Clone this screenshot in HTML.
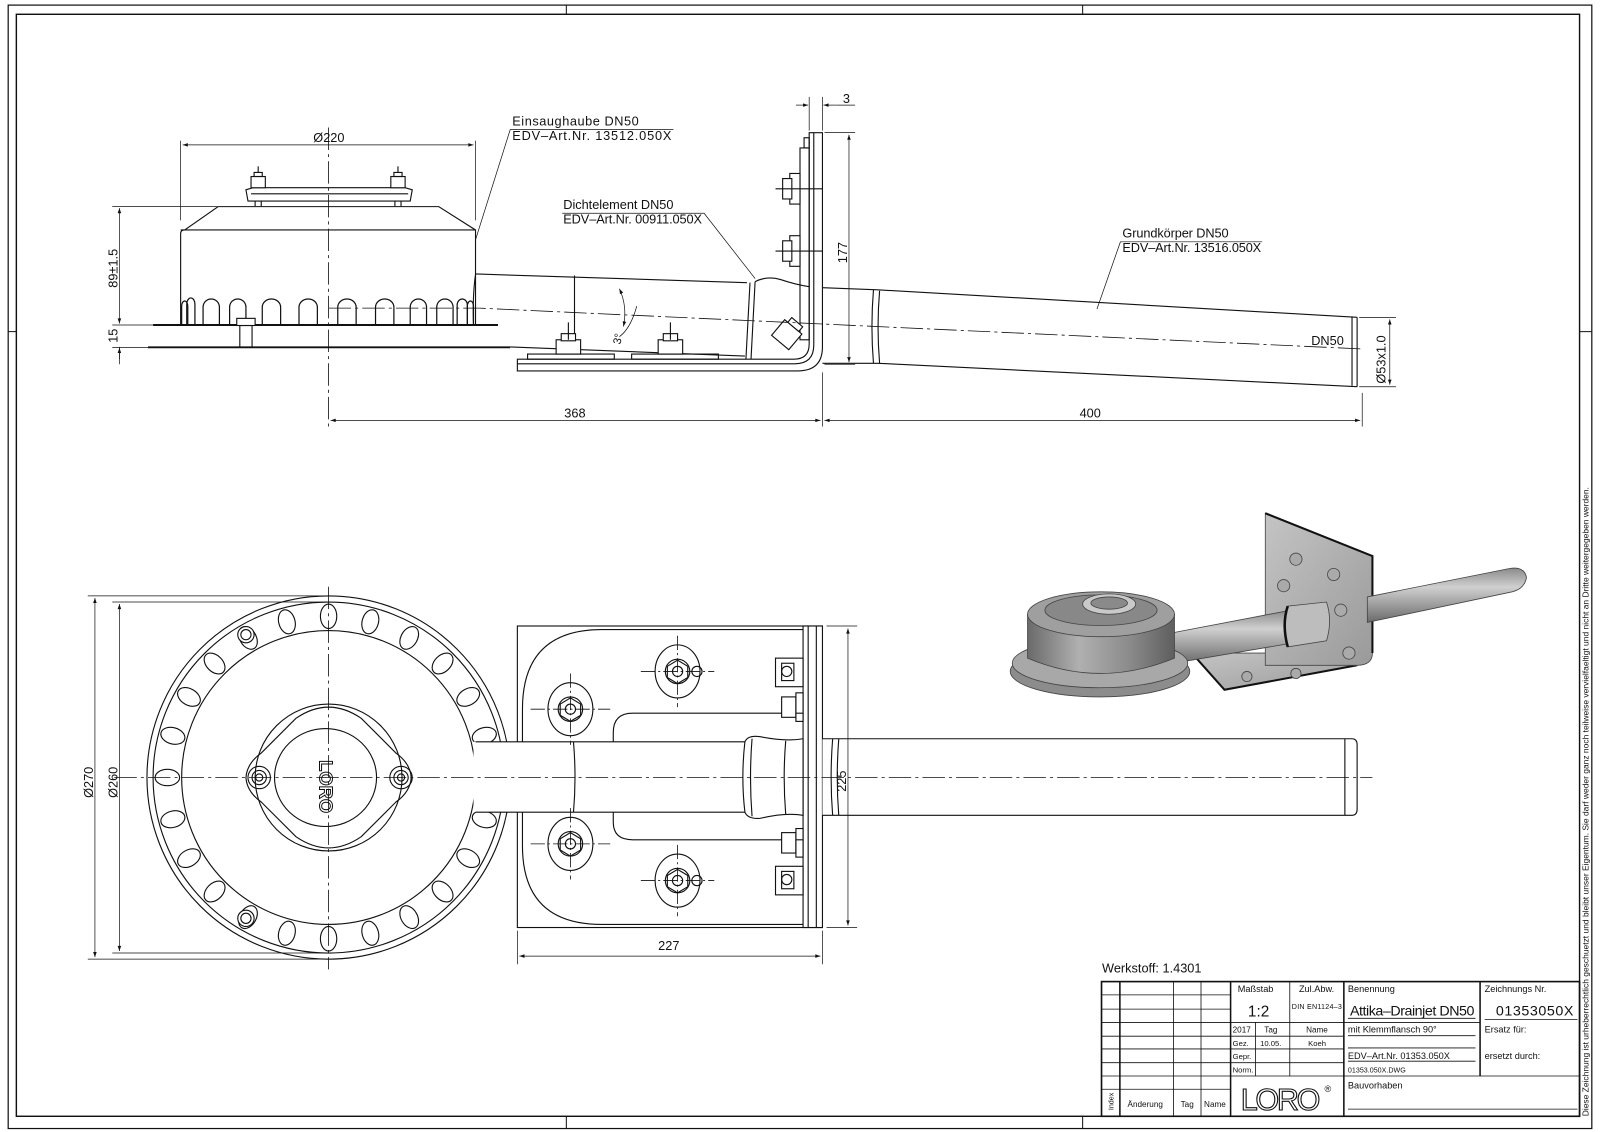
<!DOCTYPE html>
<html><head><meta charset="utf-8"><style>
html,body{margin:0;padding:0;background:#fff;}
svg{display:block;}
text{font-family:"Liberation Sans",sans-serif;fill:#111;}
</style></head><body>
<svg width="1600" height="1132" viewBox="0 0 1568 1109.4" xmlns="http://www.w3.org/2000/svg">
<defs>
<marker id="a" viewBox="0 0 10 10" refX="10" refY="5" markerWidth="9" markerHeight="5" orient="auto-start-reverse" markerUnits="userSpaceOnUse"><path d="M0,1.5 L10,5 L0,8.5z" fill="#111"/></marker>
<linearGradient id="gh" x1="0" x2="1" y1="0" y2="0"><stop offset="0" stop-color="#6a6a6a"/><stop offset=".35" stop-color="#b0b0b0"/><stop offset=".7" stop-color="#8a8a8a"/><stop offset="1" stop-color="#5e5e5e"/></linearGradient>
<linearGradient id="gp" x1="0" x2="0" y1="0" y2="1"><stop offset="0" stop-color="#8a8a8a"/><stop offset=".35" stop-color="#d0d0d0"/><stop offset="1" stop-color="#6a6a6a"/></linearGradient>
<linearGradient id="gb" x1="0" x2="1" y1="0" y2="1"><stop offset="0" stop-color="#c4c4c4"/><stop offset="1" stop-color="#9a9a9a"/></linearGradient>
</defs>
<g fill="none" stroke="#111" stroke-width="1">
<rect x="8" y="5" width="1552" height="1101" stroke-width="1.2"/>
<rect x="16" y="14" width="1532" height="1080" stroke-width="1.4"/>
<path d="M555,5V14M1061,5V14M555,1094V1106M1061,1094V1106M8,325H16M1548,325H1560"/>
</g>
<text x="0" y="0" font-size="8.3" transform="translate(1557,1094) rotate(-90)">Diese Zeichnung ist urheberrechtlich geschuetzt und bleibt unser Eigentum. Sie darf weder ganz noch teilweise vervielfaeltigt und nicht an Dritte weitergegeben werden.</text>

<!-- ================= SIDE VIEW ================= -->
<g fill="none" stroke="#111" stroke-width="1.1">
<path d="M177,318 V229 Q177,225.4 181,225.4 L213.7,202.5 H430 L466,225.4 V318" fill="#fff"/>
<path d="M177,225.4 H466"/>
<g stroke-width="1.2">
<path d="M178,318V300a3,5 0 0 1 6,0V318"/>
<path d="M183,318V298a4,6 0 0 1 8,0V318"/>
<path d="M199,318V301a8,8 0 0 1 16,0V318"/>
<path d="M225,318V301a8,8 0 0 1 16,0V318"/>
<path d="M257,318V301a9,8 0 0 1 18,0V318"/>
<path d="M293,318V301a9,8 0 0 1 18,0V318"/>
<path d="M331,318V301a9,8 0 0 1 18,0V318"/>
<path d="M368,318V301a9,8 0 0 1 18,0V318"/>
<path d="M402,318V301a8,8 0 0 1 16,0V318"/>
<path d="M428,318V301a8,8 0 0 1 16,0V318"/>
<path d="M448,318V299a5,6 0 0 1 10,0V318"/>
<path d="M458,318V300a3,5 0 0 1 6,0V318"/>
</g>
<path d="M150,318.5 H488" stroke-width="2"/>
<path d="M145,340.4 H500" stroke-width="1.8"/>
<rect x="235" y="319" width="12" height="21" fill="#fff"/>
<rect x="232" y="312" width="18" height="7" fill="#fff"/>
<path d="M243,197 L241,186 L248,184 H397 L404,186 L402,197 Z" fill="#fff"/>
<path d="M246,190H400"/>
<rect x="246" y="173" width="14" height="11" fill="#fff"/><rect x="249" y="169" width="8" height="4"/><path d="M253,163V169"/>
<rect x="383" y="173" width="14" height="11" fill="#fff"/><rect x="386" y="169" width="8" height="4"/><path d="M390,163V169"/>
<path d="M250,197V202M256,197V202M387,197V202M393,197V202"/>
<path d="M466,268.5 L732,277" fill="none"/>
<path d="M466,269 Q463,290 464,318"/>
<path d="M500,340 L730,349"/>
<path d="M563,270 V345"/>
<path d="M735,277 L731,352 M740,276 L736,352"/>
<path d="M740,276 Q752,270 765,274 Q780,279 793,281"/>
<path d="M806,282 L860,284 L1330,311"/>
<path d="M806,356 L860,356 L1330,379"/>
<path d="M856,284 Q853,320 856,356 M862,285 Q859,320 862,356"/>
<path d="M1325,310 V378 M1330,311 V379" />
<path d="M507,352 H778 Q793,352 793,337 V130 H806 V340 Q806,363.5 782,363.5 H507 Z" fill="#fff"/>
<path d="M507,356.5 H779 Q797.5,356.5 797.5,338 V130"/>
<rect x="517" y="347" width="85" height="5"/><rect x="619" y="347" width="85" height="5"/>
<rect x="784" y="145" width="9" height="188"/>
<rect x="788" y="135" width="5" height="10"/>
<g fill="#fff">
<rect x="774" y="170" width="10" height="30"/><rect x="767" y="175" width="9" height="20"/>
<rect x="774" y="231" width="10" height="30"/><rect x="767" y="236" width="9" height="20"/>
<rect x="545" y="333" width="24" height="14"/><rect x="550" y="327" width="14" height="7"/>
<rect x="645" y="333" width="24" height="14"/><rect x="650" y="327" width="14" height="7"/>
<g transform="rotate(40 771 328)"><rect x="760" y="318" width="22" height="20"/><rect x="764" y="312" width="14" height="6"/></g>
</g>
<path d="M760,185H806M760,246H806M557,316V333M657,316V333"/>
</g>
<g fill="none" stroke="#111" stroke-width="0.8" stroke-dasharray="22,4,3,4">
<path d="M322,125 V418"/>
<path d="M322,302 H470 L1335,342"/>
</g>
<g fill="none" stroke="#111" stroke-width="0.7">
<path d="M177,216 V138 M466,216 V138"/>
<path d="M179,142 H464" marker-start="url(#a)" marker-end="url(#a)"/>
<path d="M110,202.5 H213 M110,318.5 H150 M110,340.4 H145"/>
<path d="M117,204 V317" marker-start="url(#a)" marker-end="url(#a)"/>
<path d="M117,340 V357" />
<path d="M117,352 V341" marker-end="url(#a)"/>
<path d="M806,365 V418 M1335,385 V418"/>
<path d="M324,412 H804" marker-start="url(#a)" marker-end="url(#a)"/>
<path d="M808,412 H1333" marker-start="url(#a)" marker-end="url(#a)"/>
<path d="M793,95 V128 M806,95 V128"/>
<path d="M780,103 H792" marker-end="url(#a)"/><path d="M820,103 H807" marker-end="url(#a)"/><path d="M820,103 H838"/>
<path d="M808,130 H838 M808,357 H838"/>
<path d="M832,132 V355" marker-start="url(#a)" marker-end="url(#a)"/>
<path d="M1332,311 H1368 M1332,379 H1368"/>
<path d="M1362,313 V377" marker-start="url(#a)" marker-end="url(#a)"/>
<path d="M607,283 Q615,300 611,320" marker-start="url(#a)" marker-end="url(#a)"/>
<path d="M607,330 Q618,322 624,300" />
<path d="M466,235 L500,127 H660"/>
<path d="M740,273 L690,209 H551"/>
<path d="M1075,303 L1098,237 H1237"/>
</g>
<g font-size="12.5">
<text x="307" y="139">Ø220</text>
<text x="553" y="409">368</text>
<text x="1058" y="409">400</text>
<text x="826" y="101">3</text>
<text x="1285" y="338">DN50</text>
<text x="502" y="123" textLength="124">Einsaughaube DN50</text>
<text x="502" y="137" textLength="156">EDV–Art.Nr. 13512.050X</text>
<text x="552" y="205" textLength="108">Dichtelement DN50</text>
<text x="552" y="219" textLength="136">EDV–Art.Nr. 00911.050X</text>
<text x="1100" y="233" textLength="104">Grundkörper DN50</text>
<text x="1100" y="247" textLength="136">EDV–Art.Nr. 13516.050X</text>
<text transform="translate(115,282) rotate(-90)">89±1.5</text>
<text transform="translate(115,336) rotate(-90)">15</text>
<text transform="translate(830,258) rotate(-90)">177</text>
<text transform="translate(1358,376) rotate(-90)">Ø53x1.0</text>
<text transform="translate(608,338) rotate(-78)" font-size="11">3°</text>
</g>

<!-- ================= PLAN VIEW ================= -->
<g fill="none" stroke="#111" stroke-width="1.1">
<circle cx="322" cy="762" r="178"/>
<circle cx="322" cy="762" r="172"/>
<circle cx="322" cy="762" r="144"/>
<g>
<ellipse cx="480" cy="762" rx="12" ry="8" transform="rotate(15 322 762)"/>
<ellipse cx="480" cy="762" rx="12" ry="8" transform="rotate(30 322 762)"/>
<ellipse cx="480" cy="762" rx="12" ry="8" transform="rotate(45 322 762)"/>
<ellipse cx="480" cy="762" rx="12" ry="8" transform="rotate(60 322 762)"/>
<ellipse cx="480" cy="762" rx="12" ry="8" transform="rotate(75 322 762)"/>
<ellipse cx="480" cy="762" rx="12" ry="8" transform="rotate(90 322 762)"/>
<ellipse cx="480" cy="762" rx="12" ry="8" transform="rotate(105 322 762)"/>
<ellipse cx="480" cy="762" rx="12" ry="8" transform="rotate(120 322 762)"/>
<ellipse cx="480" cy="762" rx="12" ry="8" transform="rotate(135 322 762)"/>
<ellipse cx="480" cy="762" rx="12" ry="8" transform="rotate(150 322 762)"/>
<ellipse cx="480" cy="762" rx="12" ry="8" transform="rotate(165 322 762)"/>
<ellipse cx="480" cy="762" rx="12" ry="8" transform="rotate(180 322 762)"/>
<ellipse cx="480" cy="762" rx="12" ry="8" transform="rotate(195 322 762)"/>
<ellipse cx="480" cy="762" rx="12" ry="8" transform="rotate(210 322 762)"/>
<ellipse cx="480" cy="762" rx="12" ry="8" transform="rotate(225 322 762)"/>
<ellipse cx="480" cy="762" rx="12" ry="8" transform="rotate(240 322 762)"/>
<ellipse cx="480" cy="762" rx="12" ry="8" transform="rotate(255 322 762)"/>
<ellipse cx="480" cy="762" rx="12" ry="8" transform="rotate(270 322 762)"/>
<ellipse cx="480" cy="762" rx="12" ry="8" transform="rotate(285 322 762)"/>
<ellipse cx="480" cy="762" rx="12" ry="8" transform="rotate(300 322 762)"/>
<ellipse cx="480" cy="762" rx="12" ry="8" transform="rotate(315 322 762)"/>
<ellipse cx="480" cy="762" rx="12" ry="8" transform="rotate(330 322 762)"/>
<ellipse cx="480" cy="762" rx="12" ry="8" transform="rotate(345 322 762)"/>
</g>
<circle cx="241" cy="622" r="8" fill="#fff"/><circle cx="241" cy="622" r="5"/>
<circle cx="241" cy="900" r="8" fill="#fff"/><circle cx="241" cy="900" r="5"/>
<circle cx="322" cy="762" r="72"/>
<path d="M241,762 Q242,748 256,738 L290,704 Q322,682 354,704 L388,738 Q402,748 403,762 Q402,776 388,786 L354,820 Q322,842 290,820 L256,786 Q242,776 241,762Z"/>
<ellipse cx="319" cy="762" rx="50" ry="48"/>
<circle cx="254" cy="762" r="11"/><circle cx="254" cy="762" r="7"/><circle cx="254" cy="762" r="3.5"/>
<circle cx="393" cy="762" r="11"/><circle cx="393" cy="762" r="7"/><circle cx="393" cy="762" r="3.5"/>
<rect x="507" y="613.5" width="299" height="295.5" fill="#fff"/>
<path d="M790,617 H590 Q512,617 512,695 V829 Q512,906 590,906 H790"/>
<path d="M790,699 H620 Q601,699 601,718 V806 Q601,823 620,823 H790"/>
<rect x="787" y="613.5" width="19" height="295.5" fill="#fff"/>
<path d="M792,613.5V909 M800,613.5V909"/>
<rect x="464" y="727" width="266" height="69" fill="#fff" stroke="none"/>
<path d="M466,727 H730 M466,796 H730"/>
<path d="M562,727 Q565,762 562,796"/>
<path d="M730,727 Q733,720 745,722 Q770,727 787,724 V799 Q770,796 745,802 Q733,803 730,796 Q726,762 730,727Z" fill="#fff"/>
<path d="M737,724 Q734,762 737,800 M770,726 Q767,762 770,798"/>
<rect x="806" y="724" width="524" height="75" fill="#fff" stroke="none"/>
<path d="M806,724 H1325 M806,799 H1325"/>
<path d="M816,724 Q813,762 816,799 M822,724 Q819,762 822,799"/>
<path d="M1318,724 V799 M1325,724 Q1330,724 1330,730 V793 Q1330,799 1325,799"/>
<ellipse cx="559" cy="695" rx="22" ry="26" fill="#fff"/><circle cx="559" cy="695" r="12"/><path d="M549,690 L559,684 L569,690 V701 L559,707 L549,701Z"/><circle cx="559" cy="695" r="5"/>
<ellipse cx="559" cy="827" rx="22" ry="26" fill="#fff"/><circle cx="559" cy="827" r="12"/><path d="M549,822 L559,816 L569,822 V833 L559,839 L549,833Z"/><circle cx="559" cy="827" r="5"/>
<ellipse cx="664" cy="658" rx="22" ry="26" fill="#fff"/><circle cx="664" cy="658" r="12"/><path d="M654,653 L664,647 L674,653 V664 L664,670 L654,664Z"/><circle cx="664" cy="658" r="5"/><circle cx="683" cy="658" r="5"/>
<ellipse cx="664" cy="863" rx="22" ry="26" fill="#fff"/><circle cx="664" cy="863" r="12"/><path d="M654,858 L664,852 L674,858 V869 L664,875 L654,869Z"/><circle cx="664" cy="863" r="5"/><circle cx="683" cy="863" r="5"/>
<rect x="760" y="645" width="27" height="28" fill="#fff"/><rect x="766" y="650" width="12" height="17"/><circle cx="771" cy="658" r="5"/>
<rect x="766" y="683" width="14" height="20" fill="#fff"/><rect x="780" y="679" width="7" height="28"/>
<rect x="766" y="816" width="14" height="20" fill="#fff"/><rect x="780" y="812" width="7" height="28"/>
<rect x="760" y="849" width="27" height="28" fill="#fff"/><rect x="766" y="854" width="12" height="17"/><circle cx="771" cy="862" r="5"/>
</g>
<text transform="translate(313,745) rotate(90)" font-size="18" font-weight="bold" style="fill:none;stroke:#111;stroke-width:1">LORO</text>
<g fill="none" stroke="#111" stroke-width="0.8" stroke-dasharray="22,4,3,4">
<path d="M322,575 V950"/>
<path d="M112,762 H1345"/>
<path d="M520,695 H598 M559,660 V730 M520,827 H598 M559,792 V862 M628,658 H700 M664,623 V693 M628,863 H700 M664,828 V898" stroke-dasharray="14,3,2,3"/>
</g>
<g fill="none" stroke="#111" stroke-width="0.7">
<path d="M86,584 H322 M110,590 H322 M86,940 H322 M110,934 H322"/>
<path d="M93,586 V938" marker-start="url(#a)" marker-end="url(#a)"/>
<path d="M117,592 V932" marker-start="url(#a)" marker-end="url(#a)"/>
<path d="M810,613.5 H840 M810,909 H840"/>
<path d="M831,616 V907" marker-start="url(#a)" marker-end="url(#a)"/>
<path d="M507,912 V945 M806,912 V945"/>
<path d="M509,937 H804" marker-start="url(#a)" marker-end="url(#a)"/>
</g>
<g font-size="12.5">
<text transform="translate(91,782) rotate(-90)">Ø270</text>
<text transform="translate(115,782) rotate(-90)">Ø260</text>
<text transform="translate(829,776) rotate(-90)">225</text>
<text x="645" y="931">227</text>
</g>

<!-- ================= 3D VIEW ================= -->
<g stroke="#444" stroke-width="0.8">
<path d="M1168,640 L1200,676 L1330,652 L1345,640 L1240,640 Z" fill="url(#gb)"/>
<path d="M1168,640 L1200,676 L1330,652" fill="none" stroke="#111" stroke-width="2"/>
<path d="M1240,503 L1345,545 V640 Q1345,652 1330,652 L1240,652 Z" fill="url(#gb)"/>
<path d="M1240,503 L1345,545 V640" fill="none" stroke="#111" stroke-width="2"/>
<path d="M1340,585 L1480,557 Q1494,555 1496,566 Q1494,577 1482,580 L1340,610 Z" fill="url(#gp)"/>
<path d="M1150,620 L1265,598 L1268,630 L1150,650 Z" fill="url(#gp)"/>
<path d="M1262,594 Q1256,612 1262,634 L1300,628 Q1306,608 1300,590 Z" fill="#bdbdbd"/>
<path d="M1262,594 Q1256,612 1262,634" fill="none" stroke="#111" stroke-width="2.5"/>
<ellipse cx="1078" cy="658" rx="88" ry="25" fill="#8c8c8c"/>
<ellipse cx="1078" cy="650" rx="86" ry="24" fill="#a8a8a8"/>
<path d="M1007,602 V645 Q1078,675 1151,645 V602 Z" fill="url(#gh)"/>
<ellipse cx="1079" cy="602" rx="72" ry="22" fill="#9f9f9f"/>
<ellipse cx="1079" cy="598" rx="55" ry="15" fill="#888"/>
<ellipse cx="1087" cy="592" rx="26" ry="10" fill="#c9c9c9"/>
<ellipse cx="1087" cy="591" rx="18" ry="6" fill="#8a8a8a"/>
<g fill="#aaa"><circle cx="1270" cy="548" r="6"/><circle cx="1258" cy="574" r="6"/><circle cx="1307" cy="563" r="6"/><circle cx="1314" cy="598" r="6"/><circle cx="1222" cy="663" r="5"/><circle cx="1270" cy="660" r="5"/><circle cx="1322" cy="640" r="6"/></g>
</g>

<!-- ================= TITLE BLOCK ================= -->
<text x="1080" y="953" font-size="12.5">Werkstoff:  1.4301</text>
<g fill="none" stroke="#111" stroke-width="0.8">
<rect x="1079.5" y="962" width="468.5" height="132" stroke-width="1.6"/>
<path d="M1079.5,975H1206M1079.5,989H1206M1079.5,1002H1450.5M1079.5,1015.5H1317M1079.5,1028H1206M1079.5,1041.5H1317M1079.5,1054.5H1548M1079.5,1067.5H1206"/>
<path d="M1206,1028H1317" />
<path d="M1097.5,962V1094M1150,962V1094M1177,962V1094M1206,962V1094M1264,962V1054.5M1317,962V1094M1450.5,962V1054.5M1230.5,1002V1054.5"/>
<path d="M1097.5,962V1094M1206,962V1094M1317,962V1094M1450.5,962V1054.5" stroke-width="1.5"/>
<path d="M1321,998H1446 M1321,1015H1446 M1321,1027H1446 M1321,1040H1446 M1321,1087H1546 M1455,999H1546"/>
</g>
<g font-size="9">
<text x="1213" y="972">Maßstab</text>
<text x="1273" y="972">Zul.Abw.</text>
<text x="1321" y="972">Benennung</text>
<text x="1455" y="972">Zeichnungs Nr.</text>
<text x="1266" y="989" font-size="7" textLength="49">DIN EN1124–3</text>
<text x="1208" y="1012" font-size="8">2017</text>
<text x="1239" y="1012" font-size="8">Tag</text>
<text x="1280" y="1012" font-size="8">Name</text>
<text x="1208" y="1025" font-size="7.5">Gez.</text>
<text x="1235" y="1025" font-size="7.5">10.05.</text>
<text x="1282" y="1025" font-size="7.5">Koeh</text>
<text x="1208" y="1038" font-size="7.5">Gepr.</text>
<text x="1208" y="1051" font-size="7.5">Norm.</text>
<text x="1321" y="1012">mit Klemmflansch 90°</text>
<text x="1455" y="1012">Ersatz für:</text>
<text x="1321" y="1038">EDV–Art.Nr. 01353.050X</text>
<text x="1455" y="1038">ersetzt durch:</text>
<text x="1321" y="1051" font-size="7">01353.050X.DWG</text>
<text x="1321" y="1067">Bauvorhaben</text>
<text x="1105" y="1085" font-size="8">Änderung</text>
<text x="1157" y="1085" font-size="8">Tag</text>
<text x="1180" y="1085" font-size="8">Name</text>
<text transform="translate(1091,1088) rotate(-90)" font-size="7">Index</text>
</g>
<text x="1223" y="996" font-size="15">1:2</text>
<text x="1323" y="995" font-size="14" textLength="122">Attika–Drainjet DN50</text>
<text x="1466" y="995" font-size="14" textLength="76">01353050X</text>
<text x="1216" y="1088" font-size="30" textLength="78" style="fill:none;stroke:#111;stroke-width:1.1">LORO</text>
<text x="1298" y="1070" font-size="9">®</text>
</svg>
</body></html>
